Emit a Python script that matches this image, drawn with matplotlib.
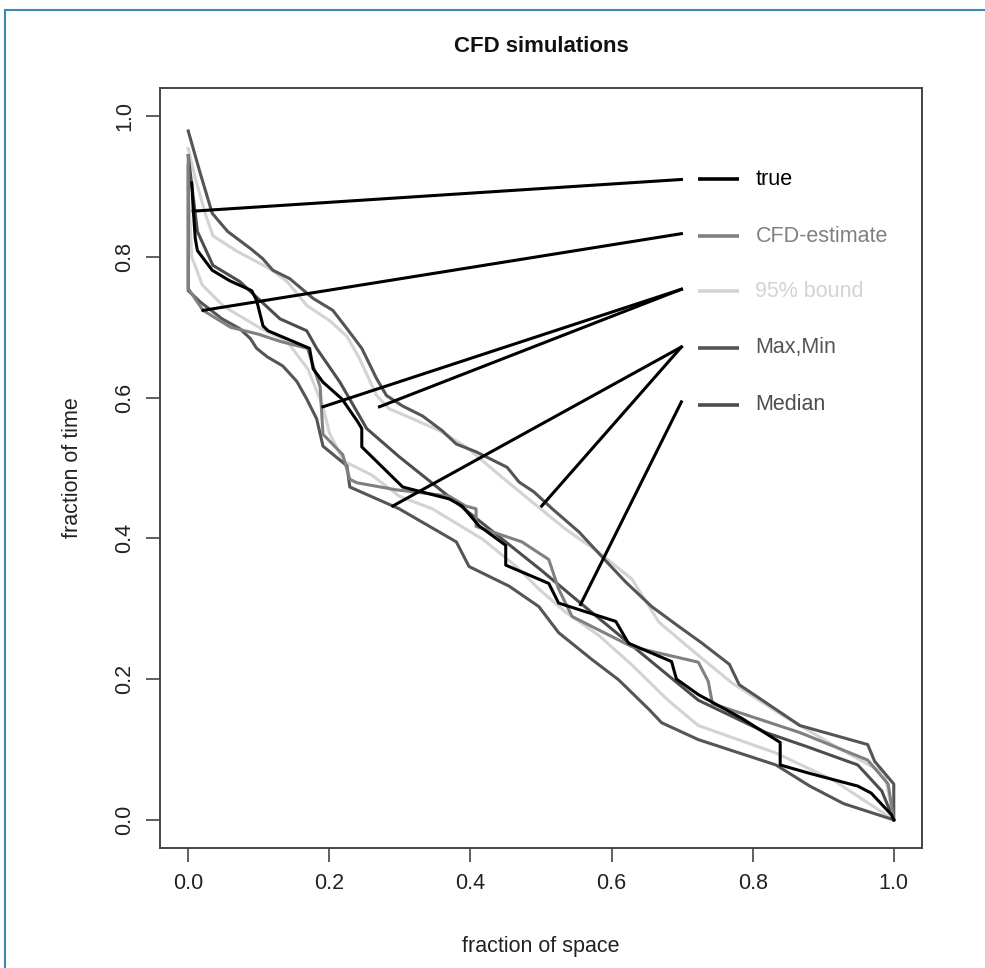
import matplotlib
matplotlib.use("Agg")
import matplotlib.pyplot as plt
from matplotlib.lines import Line2D

plt.rcParams['font.family'] = ['Liberation Sans', 'DejaVu Sans']

# ---- series (fraction of space, fraction of time) ----
true_x = [0.005, 0.007, 0.010, 0.013, 0.034, 0.059, 0.090, 0.097, 0.106, 0.113, 0.172, 0.177,
          0.191, 0.218, 0.240, 0.246, 0.246, 0.304, 0.370, 0.388, 0.412, 0.450, 0.450, 0.511,
          0.525, 0.578, 0.606, 0.624, 0.685, 0.692, 0.723, 0.785, 0.839, 0.839, 0.881, 0.949,
          0.968, 0.997, 1.0]
true_y = [0.905, 0.869, 0.826, 0.809, 0.781, 0.766, 0.752, 0.738, 0.702, 0.695, 0.670, 0.641,
          0.622, 0.598, 0.566, 0.556, 0.530, 0.473, 0.456, 0.446, 0.418, 0.390, 0.362, 0.336,
          0.308, 0.291, 0.282, 0.251, 0.225, 0.200, 0.178, 0.144, 0.110, 0.078, 0.066, 0.048,
          0.038, 0.007, 0.0]

cfd_x = [0.0, 0.0, 0.021, 0.060, 0.100, 0.130, 0.169, 0.187, 0.191, 0.219, 0.229, 0.239, 0.295,
         0.370, 0.393, 0.408, 0.408, 0.473, 0.511, 0.525, 0.544, 0.629, 0.723, 0.737, 0.743,
         0.867, 0.963, 0.992, 1.0]
cfd_y = [0.944, 0.755, 0.724, 0.700, 0.690, 0.680, 0.670, 0.615, 0.548, 0.519, 0.484, 0.479,
         0.469, 0.460, 0.446, 0.442, 0.417, 0.395, 0.370, 0.328, 0.289, 0.246, 0.224, 0.197,
         0.165, 0.124, 0.085, 0.051, 0.0]

upper95_x = [0.0, 0.010, 0.024, 0.035, 0.069, 0.116, 0.140, 0.168, 0.201, 0.225, 0.243, 0.267,
             0.285, 0.318, 0.356, 0.394, 0.441, 0.487, 0.535, 0.582, 0.629, 0.667, 0.713, 0.770,
             0.840, 0.925, 0.987, 1.0]
upper95_y = [0.954, 0.912, 0.862, 0.830, 0.808, 0.783, 0.765, 0.731, 0.709, 0.687, 0.655, 0.603,
             0.584, 0.570, 0.553, 0.530, 0.490, 0.452, 0.413, 0.380, 0.342, 0.281, 0.242, 0.195,
             0.150, 0.100, 0.066, 0.0]

lower95_x = [0.0, 0.005, 0.020, 0.050, 0.100, 0.140, 0.170, 0.191, 0.200, 0.220, 0.260, 0.299,
             0.346, 0.417, 0.465, 0.497, 0.535, 0.582, 0.629, 0.680, 0.723, 0.833, 0.915, 1.0]
lower95_y = [0.900, 0.800, 0.760, 0.730, 0.700, 0.680, 0.640, 0.587, 0.550, 0.510, 0.490, 0.460,
             0.442, 0.399, 0.360, 0.328, 0.295, 0.262, 0.220, 0.170, 0.134, 0.095, 0.056, 0.0]

max_x = [0.0, 0.017, 0.034, 0.056, 0.088, 0.105, 0.120, 0.144, 0.177, 0.205, 0.225, 0.246, 0.267,
         0.281, 0.304, 0.332, 0.360, 0.380, 0.408, 0.452, 0.469, 0.490, 0.516, 0.554, 0.590,
         0.620, 0.657, 0.695, 0.727, 0.767, 0.781, 0.867, 0.963, 0.973, 1.0, 1.0]
max_y = [0.979, 0.919, 0.862, 0.836, 0.812, 0.798, 0.781, 0.769, 0.741, 0.724, 0.698, 0.670, 0.627,
         0.603, 0.588, 0.574, 0.553, 0.534, 0.523, 0.501, 0.480, 0.466, 0.442, 0.409, 0.370,
         0.338, 0.303, 0.275, 0.252, 0.221, 0.192, 0.134, 0.107, 0.083, 0.051, 0.0]

min_x = [0.0, 0.0, 0.017, 0.048, 0.073, 0.088, 0.097, 0.112, 0.134, 0.154, 0.168, 0.182, 0.191,
         0.225, 0.229, 0.290, 0.299, 0.380, 0.398, 0.455, 0.497, 0.525, 0.572, 0.610, 0.653,
         0.671, 0.723, 0.833, 0.881, 0.929, 1.0]
min_y = [0.930, 0.752, 0.736, 0.712, 0.698, 0.684, 0.670, 0.658, 0.645, 0.623, 0.598, 0.570, 0.531,
         0.503, 0.473, 0.446, 0.442, 0.395, 0.360, 0.332, 0.303, 0.266, 0.228, 0.199, 0.157,
         0.138, 0.114, 0.078, 0.048, 0.023, 0.0]

median_x = [0.0, 0.013, 0.035, 0.073, 0.130, 0.168, 0.182, 0.215, 0.253, 0.299, 0.400, 0.500,
            0.556, 0.620, 0.723, 0.819, 0.877, 0.949, 0.983, 1.0]
median_y = [0.944, 0.836, 0.788, 0.765, 0.712, 0.695, 0.670, 0.622, 0.556, 0.516, 0.435, 0.355,
            0.308, 0.255, 0.170, 0.124, 0.104, 0.078, 0.041, 0.0]

# legend entries and the curve points each label line points at
labels = ["true", "CFD-estimate", "95% bound", "Max,Min", "Median"]
label_y = [0.910, 0.829, 0.751, 0.671, 0.590]
pointer_y = [0.910, 0.833, 0.754, 0.672, 0.594]
pointer_targets = [
    [(0.007, 0.865)],
    [(0.021, 0.724)],
    [(0.191, 0.587), (0.271, 0.587)],
    [(0.290, 0.446), (0.501, 0.446)],
    [(0.556, 0.306)],
]

C_TRUE = "#000000"
C_CFD = "#808080"
C_BOUND = "#d3d3d3"
C_MAXMIN = "#555555"
C_MEDIAN = "#4d4d4d"
colors = [C_TRUE, C_CFD, C_BOUND, C_MAXMIN, C_MEDIAN]

fig = plt.figure(figsize=(9.85, 9.68), dpi=100)
ax = fig.add_axes([160 / 985, 120 / 968, 762 / 985, 760 / 968])

lw = 2.2
ax.plot(upper95_x, upper95_y, color=C_BOUND, lw=lw, solid_joinstyle="round")
ax.plot(lower95_x, lower95_y, color=C_BOUND, lw=lw, solid_joinstyle="round")
ax.plot(max_x, max_y, color=C_MAXMIN, lw=lw, solid_joinstyle="round")
ax.plot(min_x, min_y, color=C_MAXMIN, lw=lw, solid_joinstyle="round")
ax.plot(median_x, median_y, color=C_MEDIAN, lw=lw, solid_joinstyle="round")
ax.plot(cfd_x, cfd_y, color=C_CFD, lw=lw, solid_joinstyle="round")
ax.plot(true_x, true_y, color=C_TRUE, lw=lw, solid_joinstyle="round")

# pointer lines from the labels to the curves
x_start = 0.699
for py, targets in zip(pointer_y, pointer_targets):
    for tx, ty in targets:
        ax.plot([x_start, tx], [py, ty], color="#000000", lw=2.2)

# labels with short line keys
for lab, ly, col in zip(labels, label_y, colors):
    ax.plot([0.723, 0.780], [ly, ly], color=col, lw=2.6, solid_capstyle="butt")
    ax.text(0.804, ly, lab, color=col, fontsize=15.5, va="center", ha="left")

ax.set_xlim(-0.04, 1.04)
ax.set_ylim(-0.04, 1.04)
ticks = [0.0, 0.2, 0.4, 0.6, 0.8, 1.0]
tick_labels = ["0.0", "0.2", "0.4", "0.6", "0.8", "1.0"]
ax.set_xticks(ticks)
ax.set_xticklabels(tick_labels)
ax.set_yticks(ticks)
ax.set_yticklabels(tick_labels, rotation=90, va="center")
ax.tick_params(direction="out", length=10, width=1.2, colors="#444444",
               labelsize=15.5, labelcolor="#222222", pad=8)
for sp in ax.spines.values():
    sp.set_color("#444444")
    sp.set_linewidth(1.4)

ax.set_xlabel("fraction of space", fontsize=15.5, color="#222222", labelpad=30)
ax.set_ylabel("fraction of time", fontsize=15.5, color="#222222", labelpad=22)
ax.set_title("CFD simulations", fontsize=16, fontweight="bold", color="#111111", pad=26)

# outer frame lines along the top and left edges
fig.add_artist(Line2D([5 / 985, 1.0], [1 - 10 / 968, 1 - 10 / 968], color="#3b8bb0", lw=1.5))
fig.add_artist(Line2D([5 / 985, 5 / 985], [0.0, 1 - 10 / 968], color="#3b8bb0", lw=1.5))

fig.savefig("out.png", dpi=100)
